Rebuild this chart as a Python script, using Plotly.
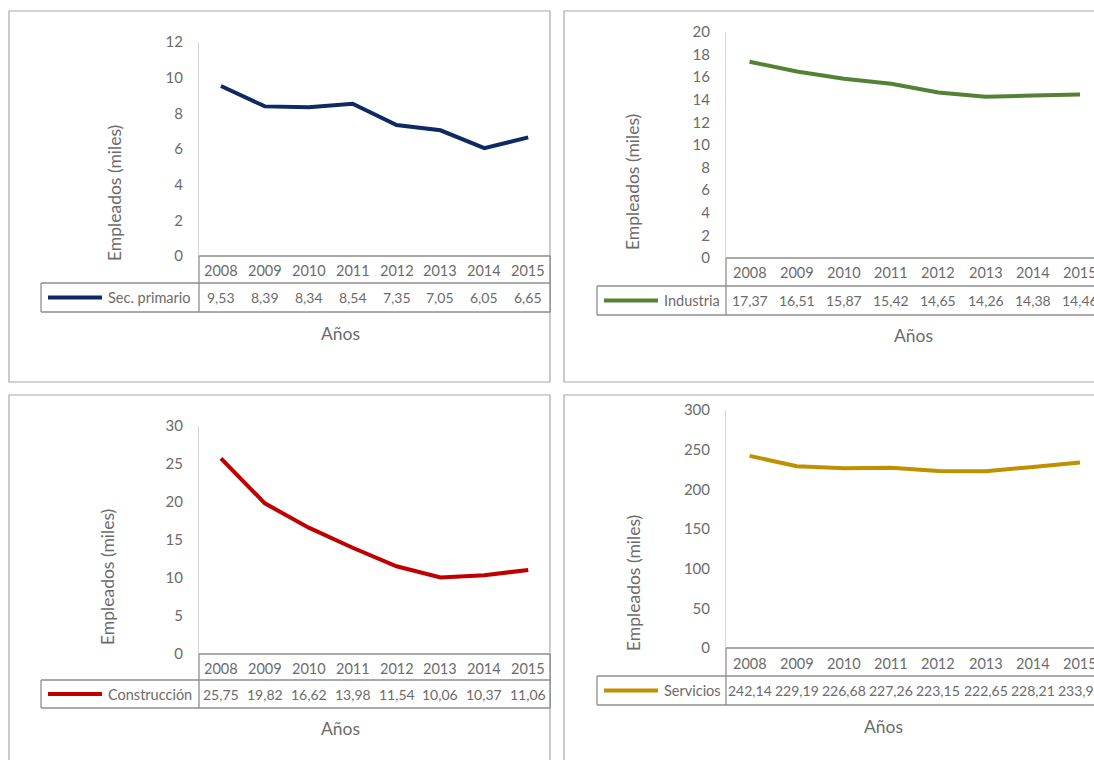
import plotly.graph_objects as go

# ---------------- data ----------------
years = ["2008", "2009", "2010", "2011", "2012", "2013", "2014", "2015"]
primario = [9.53, 8.39, 8.34, 8.54, 7.35, 7.05, 6.05, 6.65]
industria = [17.37, 16.51, 15.87, 15.42, 14.65, 14.26, 14.38, 14.46]
construccion = [25.75, 19.82, 16.62, 13.98, 11.54, 10.06, 10.37, 11.06]
servicios = [242.14, 229.19, 226.68, 227.26, 223.15, 222.65, 228.21, 233.96]

series_names = ["Sec. primario", "Industria", "Construcción", "Servicios"]
series_values = [primario, industria, construccion, servicios]
series_colors = ["#0E2A62", "#548235", "#C00000", "#BF9000"]
ytick_sets = [
    [0, 2, 4, 6, 8, 10, 12],
    [0, 2, 4, 6, 8, 10, 12, 14, 16, 18, 20],
    [0, 5, 10, 15, 20, 25, 30],
    [0, 50, 100, 150, 200, 250, 300],
]
y_title = "Empleados (miles)"
x_title = "Años"

# ---------------- layout (pixels) ----------------
W, H = 1094, 760
FONT = "Lato"
TXT = "#6b6b6b"
TABLE = "#8e8e8e"
FRAME = "#a8a8a8"
FS = 14.5

panels = [
    dict(frame=(9, 11, 550, 382), ax=199, colw=43.9, ytop=42, y0=256, yrow=283, dbot=312,
         lab=41, ytx=114, yty=193, atx=340, aty=333),
    dict(frame=(564, 11, 1110, 382), ax=726, colw=47.2, ytop=32, y0=258, yrow=286, dbot=315,
         lab=597, ytx=633, yty=182, atx=913, aty=335),
    dict(frame=(9, 395, 550, 780), ax=199, colw=43.9, ytop=426, y0=654, yrow=680, dbot=708,
         lab=41, ytx=107, yty=577, atx=340, aty=728),
    dict(frame=(564, 395, 1110, 780), ax=726, colw=47.2, ytop=410, y0=648, yrow=676, dbot=705,
         lab=597, ytx=633, yty=583, atx=883, aty=726),
]


def X(px):
    return px / W


def Y(py):
    return 1 - py / H


fig = go.Figure()
shapes = []
annotations = []
layout_axes = {}

for k, (p, name, vals, col, yt) in enumerate(
        zip(panels, series_names, series_values, series_colors, ytick_sets)):
    idx = "" if k == 0 else str(k + 1)
    xa, ya = "x" + idx, "y" + idx
    n = len(years)
    right = p["ax"] + n * p["colw"]
    vis_right = min(right, W)
    vis_cols = (vis_right - p["ax"]) / p["colw"]

    fig.add_trace(go.Scatter(
        x=list(range(n)), y=vals, mode="lines", xaxis=xa, yaxis=ya,
        line=dict(color=col, width=4), showlegend=False, hoverinfo="skip"))

    layout_axes["xaxis" + idx] = dict(
        domain=[X(p["ax"]), X(vis_right)], range=[-0.5, -0.5 + vis_cols],
        showticklabels=False, showgrid=False, zeroline=False, showline=False,
        anchor=ya, fixedrange=True, automargin=False)
    layout_axes["yaxis" + idx] = dict(
        domain=[Y(p["y0"]), Y(p["ytop"])], range=[0, yt[-1]], tickvals=yt,
        showgrid=False, zeroline=False, showline=True, linecolor="#d6d6d6",
        linewidth=1, ticks="", ticklabelstandoff=12, automargin=False,
        tickfont=dict(family=FONT, size=15, color=TXT), anchor=xa, fixedrange=True)

    # panel frame
    fx0, fy0, fx1, fy1 = p["frame"]
    shapes.append(dict(type="rect", xref="paper", yref="paper",
                       x0=X(fx0), x1=X(fx1), y0=Y(fy1), y1=Y(fy0),
                       line=dict(color=FRAME, width=1.2), layer="below"))

    def hline(x0, x1, y, c=TABLE):
        shapes.append(dict(type="line", xref="paper", yref="paper",
                           x0=X(x0), x1=X(x1), y0=Y(y), y1=Y(y),
                           line=dict(color=c, width=1.3)))

    def vline(x, y0, y1, c=TABLE):
        shapes.append(dict(type="line", xref="paper", yref="paper",
                           x0=X(x), x1=X(x), y0=Y(y0), y1=Y(y1),
                           line=dict(color=c, width=1.3)))

    # data table borders
    hline(p["ax"], right, p["y0"])
    hline(p["lab"], right, p["yrow"])
    hline(p["lab"], right, p["dbot"])
    vline(p["ax"], p["y0"], p["dbot"])
    vline(p["lab"], p["yrow"], p["dbot"])
    vline(right, p["y0"], p["dbot"])

    # legend key inside the table
    ly = (p["yrow"] + p["dbot"]) / 2
    shapes.append(dict(type="line", xref="paper", yref="paper",
                       x0=X(p["lab"] + 7), x1=X(p["lab"] + 61), y0=Y(ly), y1=Y(ly),
                       line=dict(color=col, width=4)))
    annotations.append(dict(text=name, xref="paper", yref="paper",
                            x=X(p["lab"] + 65), y=Y(ly), xanchor="left", yanchor="middle",
                            showarrow=False, font=dict(family=FONT, size=FS, color=TXT)))

    yy = (p["y0"] + p["yrow"]) / 2
    for i, (yr, v) in enumerate(zip(years, vals)):
        annotations.append(dict(text=yr, xref=xa, yref="paper", x=i, y=Y(yy + 1),
                                xanchor="center", yanchor="middle", showarrow=False,
                                font=dict(family=FONT, size=FS, color=TXT)))
        annotations.append(dict(text=f"{v:.2f}".replace(".", ","), xref=xa, yref="paper",
                                x=i, y=Y(ly), xanchor="center", yanchor="middle",
                                showarrow=False, font=dict(family=FONT, size=14, color=TXT)))

    # axis titles
    annotations.append(dict(text=y_title, xref="paper", yref="paper", x=X(p["ytx"]),
                            y=Y(p["yty"]), textangle=-90, xanchor="center", yanchor="middle",
                            showarrow=False, font=dict(family=FONT, size=17.5, color=TXT)))
    annotations.append(dict(text=x_title, xref="paper", yref="paper", x=X(p["atx"]),
                            y=Y(p["aty"]), xanchor="center", yanchor="middle",
                            showarrow=False, font=dict(family=FONT, size=17.5, color=TXT)))

fig.update_layout(
    width=W, height=H, margin=dict(l=0, r=0, t=0, b=0, autoexpand=False),
    paper_bgcolor="white", plot_bgcolor="white",
    shapes=shapes, annotations=annotations, **layout_axes)

fig.write_html(
    "out.html",
    config={"displayModeBar": False},
    post_script=(
        "document.body.style.margin='0';document.body.style.overflow='hidden';"
        "var d=document.getElementById('{plot_id}');"
        "d.style.position='fixed';d.style.top='0px';d.style.left='0px';"
    ),
)
